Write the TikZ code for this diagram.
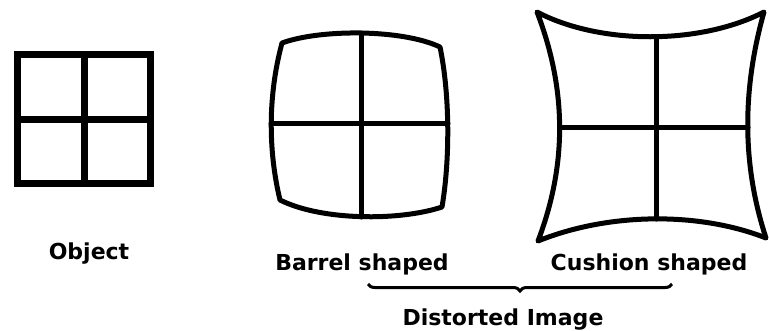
\documentclass[tikz,border=0pt]{standalone}
\usepackage{fontspec}
\setmainfont{DejaVu Sans}
\usepackage{tikz}
\usetikzlibrary{decorations.pathreplacing}

\begin{document}
\begin{tikzpicture}[x=1pt,y=-1pt,
  grid/.style={line width=7pt,line join=miter},
  lens/.style={line width=5pt,line join=round,line cap=round},
  lab/.style={inner sep=0pt,anchor=base,font=\fontsize{22}{24}\selectfont\bfseries}]
  \useasboundingbox (0,0) rectangle (769,330);
  % object
  \begin{scope}
   \draw[grid] (17.5,54) rectangle (150,183);
   \draw[grid] (84,54) -- (84,183);
   \draw[grid] (17.5,119) -- (150,119);
   \node[lab] (obj) at (89,259) {Object};
  \end{scope}
  % barrel
  \begin{scope}
   \draw[lens] (282,43) .. controls (320,29) and (402,29) .. (440,47)
     .. controls (450,95) and (450,160) .. (442,207)
     .. controls (400,221) and (322,221) .. (280,200)
     .. controls (268,150) and (268,95) .. cycle;
   \draw[lens] (361,33) -- (361,217);
   \draw[lens] (271,123) -- (448,123);
   \node[lab] (barrel) at (362,270) {Barrel shaped};
  \end{scope}
  % cushion
  \begin{scope}
   \draw[lens] (537,12) .. controls (600,45) and (700,45) .. (764,12)
     .. controls (742,90) and (742,165) .. (766,238)
     .. controls (700,212) and (610,212) .. (538,241)
     .. controls (567,165) and (567,90) .. cycle;
   \draw[lens] (656,37) -- (656,219);
   \draw[lens] (560,127) -- (748,127);
   \node[lab] (cushion) at (649,270) {Cushion shaped};
  \end{scope}
  \coordinate (bl) at (368,284);
  \coordinate (br) at (672,284);
  \draw[line width=3pt,decorate,decoration={brace,mirror,amplitude=7pt}] (bl) -- (br);
  \node[lab] (dist) at (503,325) {Distorted Image};
\end{tikzpicture}
\end{document}
